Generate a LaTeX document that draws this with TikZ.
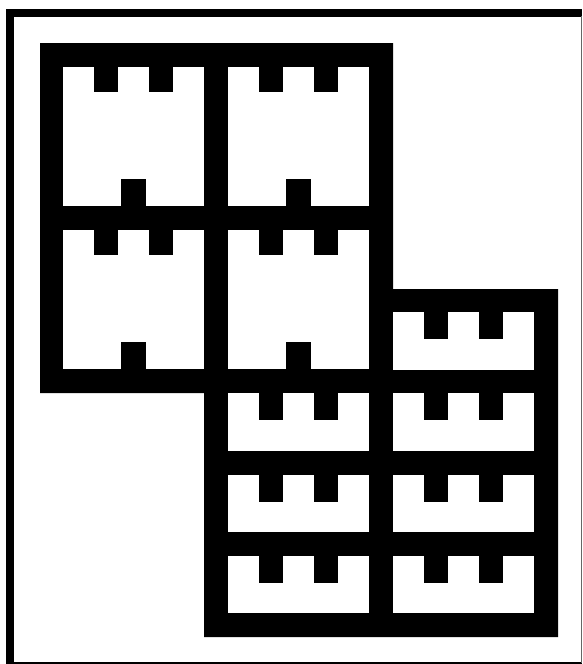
\documentclass[tikz,border=0pt]{standalone}
\usepackage{tikz}

\begin{document}
\begin{tikzpicture}[x=1pt,y=-1pt, wall/.style={fill=black}, room/.style={fill=white}, edge/.style={draw=black,line width=8pt}]
\useasboundingbox (0,0) rectangle (582,664);
\draw[edge] (10,664) -- (10,12.5) -- (582,12.5);
\draw[line width=1.5pt] (10,663) -- (582,663);
\draw[line width=0.6pt, black!60] (581.5,16) -- (581.5,663);
\fill[wall] (40,43) -- (393,43) -- (393,289) -- (558,289) -- (558,637) -- (204,637) -- (204,393) -- (40,393) -- cycle;
\foreach \x/\y in {63/67, 228/67, 63/230, 228/230}{
  \fill[room] (\x,\y) rectangle ++(141,139);
  \fill[wall] (\x+31,\y) rectangle ++(24,25);
  \fill[wall] (\x+86,\y) rectangle ++(24,25);
  \fill[wall] (\x+58,\y+112) rectangle ++(25,27);
}
\foreach \x/\y in {393/312, 228/393, 393/393, 228/474.5, 393/474.5, 228/555.5, 393/555.5}{
  \fill[room] (\x,\y) rectangle ++(141,57.5);
  \fill[wall] (\x+31,\y) rectangle ++(24,27);
  \fill[wall] (\x+86,\y) rectangle ++(24,27);
}
\end{tikzpicture}
\end{document}
